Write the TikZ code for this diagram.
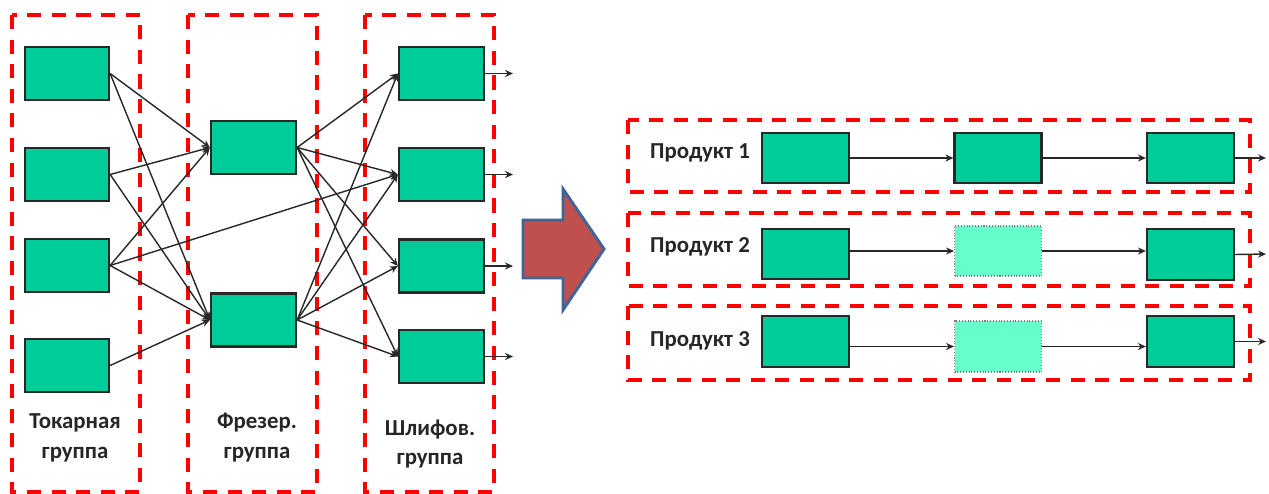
\documentclass[tikz,border=0pt]{standalone}
\usepackage{fontspec}
\setmainfont{Carlito}
\usetikzlibrary{arrows.meta}
\definecolor{gfill}{RGB}{0,204,153}
\definecolor{lfill}{RGB}{102,255,204}
\definecolor{redd}{RGB}{255,0,0}
\definecolor{arrfill}{RGB}{192,80,77}
\definecolor{arrline}{RGB}{65,100,150}
\definecolor{lnk}{RGB}{40,40,40}
\begin{document}
\begin{tikzpicture}[x=0.02cm,y=-0.02cm,
  gbox/.style={draw=lnk,line width=1.3pt,fill=gfill,inner sep=0pt},
  lbox/.style={draw=gray,densely dotted,line width=0.6pt,fill=lfill,inner sep=0pt},
  grp/.style={draw=redd,line width=2.3pt,dash pattern=on 8pt off 6pt},
  lnkline/.style={draw=lnk,line width=0.8pt,-{Stealth[length=4.5pt,width=4pt]}},
  lbl/.style={font=\bfseries\fontsize{13}{17}\selectfont,align=center,text=black!85,inner sep=0pt}
]
\useasboundingbox[fill=white] (0,0) rectangle (1269,494);

% group frames
\draw[grp] (12,15) rectangle (140,492);
\draw[grp] (188,15) rectangle (317,492);
\draw[grp] (365,15) rectangle (494,492);

% lathe group
\foreach \i/\y in {1/73.5,2/174.5,3/265.5,4/365.5}
  \node[gbox,minimum width=1.68cm,minimum height=1.06cm] (L\i) at (67,\y) {};
% milling group
\foreach \i/\y in {1/147.5,2/320}
  \node[gbox,minimum width=1.7cm,minimum height=1.06cm] (M\i) at (253.5,\y) {};
% grinding group
\foreach \i/\y in {1/73.5,2/174.5,3/266,4/356.5}
  \node[gbox,minimum width=1.7cm,minimum height=1.06cm] (G\i) at (441.5,\y) {};
\foreach \i/\y in {1/73.5,2/174.5,3/266,4/356.5}
  \coordinate (O\i) at (513,\y);

% lathe -> milling
\draw[lnkline] (L1.east) -- (M1.west);
\draw[lnkline] (L1.east) -- (M2.west);
\draw[lnkline] (L2.east) -- (M1.west);
\draw[lnkline] (L2.east) -- (M2.west);
\draw[lnkline] (L3.east) -- (M1.west);
\draw[lnkline] (L3.east) -- (M2.west);
\draw[lnkline] (L3.east) -- (G2.west);
\draw[lnkline] (L4.east) -- (M2.west);
% milling -> grinding
\foreach \m in {1,2}
  \foreach \g in {1,2,3,4}
    \draw[lnkline] (M\m.east) -- (G\g.west);
% outputs
\foreach \g in {1,2,3,4}
  \draw[lnkline] (G\g.east) -- (O\g);

% labels
\node[lbl] (t1) at (75,438) {Токарная\\группа};
\node[lbl] (t2) at (257,438) {Фрезер.\\группа};
\node[lbl] (t3) at (430,444) {Шлифов.\\группа};

% big arrow
\draw[fill=arrfill,draw=arrline,line width=1.7pt,line join=miter]
  (523,220) -- (563,220) -- (563,189) -- (604,249) -- (563,310) -- (563,278) -- (523,278) -- cycle;

% product frames
\draw[grp] (628,120) rectangle (1250,192);
\draw[grp] (628,213) rectangle (1250,286);
\draw[grp] (628,306) rectangle (1250,380);

\node[lbl] (p1) at (700,153) {Продукт 1};
\node[lbl] (p2) at (700,247) {Продукт 2};
\node[lbl] (p3) at (700,341) {Продукт 3};

% row 1
\node[gbox,minimum width=1.74cm,minimum height=1.0cm] (a1) at (805.5,158) {};
\node[gbox,minimum width=1.74cm,minimum height=1.0cm] (b1) at (998,158) {};
\node[gbox,minimum width=1.74cm,minimum height=1.0cm] (c1) at (1190.5,158) {};
\coordinate (e1) at (1266,158);
\draw[lnkline] (a1.east) -- (b1.west);
\draw[lnkline] (b1.east) -- (c1.west);
\draw[lnkline] (c1.east) -- (e1);

% row 2
\node[gbox,minimum width=1.74cm,minimum height=1.0cm] (a2) at (805.5,254) {};
\node[lbox,minimum width=1.74cm,minimum height=1.0cm] (b2) at (998,251) {};
\node[gbox,minimum width=1.74cm,minimum height=1.02cm] (c2) at (1190.5,254.5) {};
\coordinate (e2) at (1266,254);
\draw[lnkline] (a2.east |- b2.west) -- (b2.west);
\draw[lnkline] (b2.east) -- (c2.west |- b2.east);
\draw[lnkline] (c2.east) -- (e2);

% row 3
\node[gbox,minimum width=1.74cm,minimum height=1.02cm] (a3) at (805.5,341.5) {};
\node[lbox,minimum width=1.74cm,minimum height=1.02cm] (b3) at (998,346.5) {};
\node[gbox,minimum width=1.74cm,minimum height=1.02cm] (c3) at (1190.5,341.5) {};
\coordinate (e3) at (1266,341.5);
\draw[lnkline] (a3.east |- b3.west) -- (b3.west);
\draw[lnkline] (b3.east) -- (c3.west |- b3.east);
\draw[lnkline] (c3.east) -- (e3);
\end{tikzpicture}
\end{document}
